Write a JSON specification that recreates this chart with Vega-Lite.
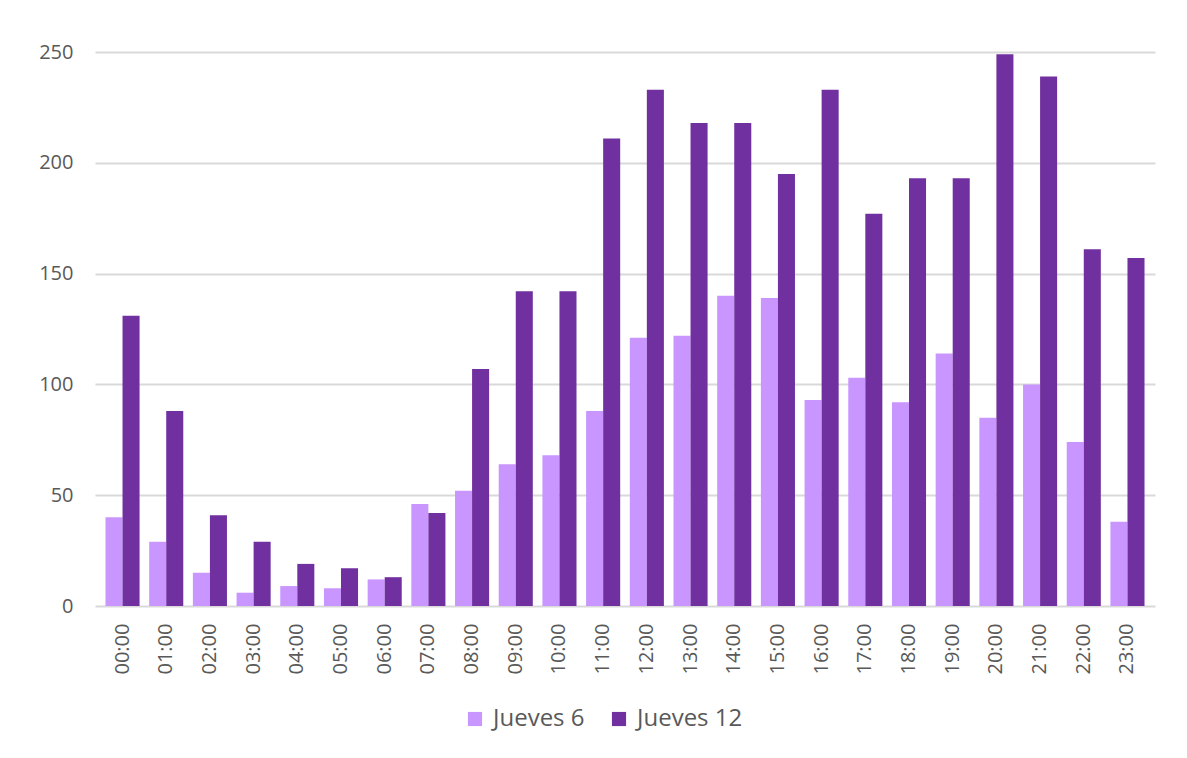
{
  "$schema": "https://vega.github.io/schema/vega-lite/v6.json",
  "width": 1060,
  "height": 554,
  "autosize": {"type": "none"},
  "padding": {"left": 95, "top": 52, "right": 32, "bottom": 152},
  "background": "white",
  "data": {
    "values": [
      {"hora": "00:00", "serie": "Jueves 6", "valor": 40}, {"hora": "00:00", "serie": "Jueves 12", "valor": 131},
      {"hora": "01:00", "serie": "Jueves 6", "valor": 29}, {"hora": "01:00", "serie": "Jueves 12", "valor": 88},
      {"hora": "02:00", "serie": "Jueves 6", "valor": 15}, {"hora": "02:00", "serie": "Jueves 12", "valor": 41},
      {"hora": "03:00", "serie": "Jueves 6", "valor": 6}, {"hora": "03:00", "serie": "Jueves 12", "valor": 29},
      {"hora": "04:00", "serie": "Jueves 6", "valor": 9}, {"hora": "04:00", "serie": "Jueves 12", "valor": 19},
      {"hora": "05:00", "serie": "Jueves 6", "valor": 8}, {"hora": "05:00", "serie": "Jueves 12", "valor": 17},
      {"hora": "06:00", "serie": "Jueves 6", "valor": 12}, {"hora": "06:00", "serie": "Jueves 12", "valor": 13},
      {"hora": "07:00", "serie": "Jueves 6", "valor": 46}, {"hora": "07:00", "serie": "Jueves 12", "valor": 42},
      {"hora": "08:00", "serie": "Jueves 6", "valor": 52}, {"hora": "08:00", "serie": "Jueves 12", "valor": 107},
      {"hora": "09:00", "serie": "Jueves 6", "valor": 64}, {"hora": "09:00", "serie": "Jueves 12", "valor": 142},
      {"hora": "10:00", "serie": "Jueves 6", "valor": 68}, {"hora": "10:00", "serie": "Jueves 12", "valor": 142},
      {"hora": "11:00", "serie": "Jueves 6", "valor": 88}, {"hora": "11:00", "serie": "Jueves 12", "valor": 211},
      {"hora": "12:00", "serie": "Jueves 6", "valor": 121}, {"hora": "12:00", "serie": "Jueves 12", "valor": 233},
      {"hora": "13:00", "serie": "Jueves 6", "valor": 122}, {"hora": "13:00", "serie": "Jueves 12", "valor": 218},
      {"hora": "14:00", "serie": "Jueves 6", "valor": 140}, {"hora": "14:00", "serie": "Jueves 12", "valor": 218},
      {"hora": "15:00", "serie": "Jueves 6", "valor": 139}, {"hora": "15:00", "serie": "Jueves 12", "valor": 195},
      {"hora": "16:00", "serie": "Jueves 6", "valor": 93}, {"hora": "16:00", "serie": "Jueves 12", "valor": 233},
      {"hora": "17:00", "serie": "Jueves 6", "valor": 103}, {"hora": "17:00", "serie": "Jueves 12", "valor": 177},
      {"hora": "18:00", "serie": "Jueves 6", "valor": 92}, {"hora": "18:00", "serie": "Jueves 12", "valor": 193},
      {"hora": "19:00", "serie": "Jueves 6", "valor": 114}, {"hora": "19:00", "serie": "Jueves 12", "valor": 193},
      {"hora": "20:00", "serie": "Jueves 6", "valor": 85}, {"hora": "20:00", "serie": "Jueves 12", "valor": 249},
      {"hora": "21:00", "serie": "Jueves 6", "valor": 100}, {"hora": "21:00", "serie": "Jueves 12", "valor": 239},
      {"hora": "22:00", "serie": "Jueves 6", "valor": 74}, {"hora": "22:00", "serie": "Jueves 12", "valor": 161},
      {"hora": "23:00", "serie": "Jueves 6", "valor": 38}, {"hora": "23:00", "serie": "Jueves 12", "valor": 157}
    ]
  },
  "mark": {"type": "bar", "stroke": null},
  "encoding": {
    "x": {
      "field": "hora", "type": "nominal", "sort": null,
      "scale": {"paddingInner": 0.22, "paddingOuter": 0.24},
      "axis": {
        "title": null, "labelAngle": 270, "labelFont": "Open Sans", "labelFontSize": 20,
        "labelColor": "#595959", "domain": false, "ticks": false, "labelPadding": 17
      }
    },
    "xOffset": {"field": "serie", "type": "nominal", "sort": ["Jueves 6", "Jueves 12"], "scale": {"paddingInner": 0}},
    "y": {
      "field": "valor", "type": "quantitative",
      "scale": {"domain": [0, 250], "nice": false},
      "axis": {
        "title": null, "values": [0, 50, 100, 150, 200, 250], "labelFont": "Open Sans", "labelFontSize": 20,
        "labelColor": "#595959", "domain": false, "ticks": false, "labelPadding": 22,
        "gridColor": "#D9D9D9", "gridWidth": 2
      }
    },
    "color": {
      "field": "serie", "type": "nominal", "sort": ["Jueves 6", "Jueves 12"],
      "scale": {"domain": ["Jueves 6", "Jueves 12"], "range": ["#C996FF", "#7030A0"]},
      "legend": {
        "title": null, "orient": "none", "direction": "horizontal", "legendX": 368, "legendY": 655,
        "symbolType": "square", "symbolSize": 200, "symbolStrokeWidth": 0,
        "labelFont": "Open Sans", "labelFontSize": 24, "labelColor": "#595959",
        "columnPadding": 22, "labelOffset": 6
      }
    }
  },
  "config": {"view": {"stroke": null}}
}
